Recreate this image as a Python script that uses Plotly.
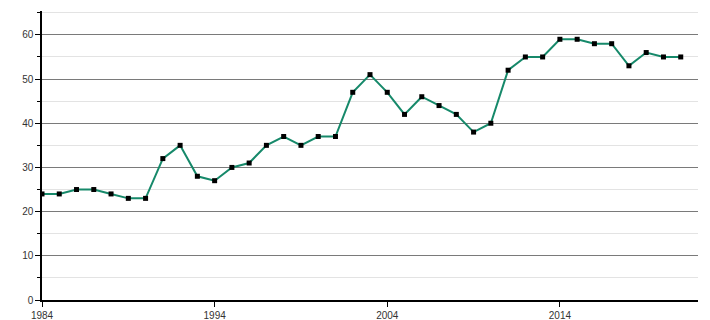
import plotly.graph_objects as go

years = list(range(1984, 2022))
values = [24, 24, 25, 25, 24, 23, 23, 32, 35, 28, 27, 30, 31, 35, 37, 35, 37, 37,
          47, 51, 47, 42, 46, 44, 42, 38, 40, 52, 55, 55, 59, 59, 58, 58, 53, 56, 55, 55]
x_ticks = [1984, 1994, 2004, 2014]

fig = go.Figure()
fig.add_trace(go.Scatter(
    x=years, y=values, mode="lines+markers",
    line=dict(color="#16896a", width=2),
    marker=dict(symbol="square", size=5, color="#000000"),
    showlegend=False,
))

fig.update_layout(
    width=710, height=320,
    margin=dict(l=42, r=12, t=11, b=20),
    paper_bgcolor="white", plot_bgcolor="white",
    font=dict(family="Liberation Sans, Arial, sans-serif", size=10, color="#333333"),
    xaxis=dict(
        range=[1984, 2022], tickvals=x_ticks, ticktext=[str(t) for t in x_ticks],
        showgrid=False, zeroline=False, automargin=False,
        showline=True, linecolor="#000000", linewidth=1.5,
        ticks="outside", ticklen=5, tickcolor="#000000", tickwidth=1,
    ),
    yaxis=dict(
        range=[0, 65.4], dtick=10, tick0=0, automargin=False,
        showgrid=True, gridcolor="#7a7a7a", gridwidth=1,
        zeroline=False,
        showline=True, linecolor="#000000", linewidth=1.5,
        ticks="outside", ticklen=5, tickcolor="#000000", tickwidth=1,
        minor=dict(dtick=5, tick0=0, showgrid=True, gridcolor="#e3e3e3", gridwidth=1,
                   ticks="outside", ticklen=3, tickcolor="#000000"),
    ),
)

fig.write_html("out.html")
